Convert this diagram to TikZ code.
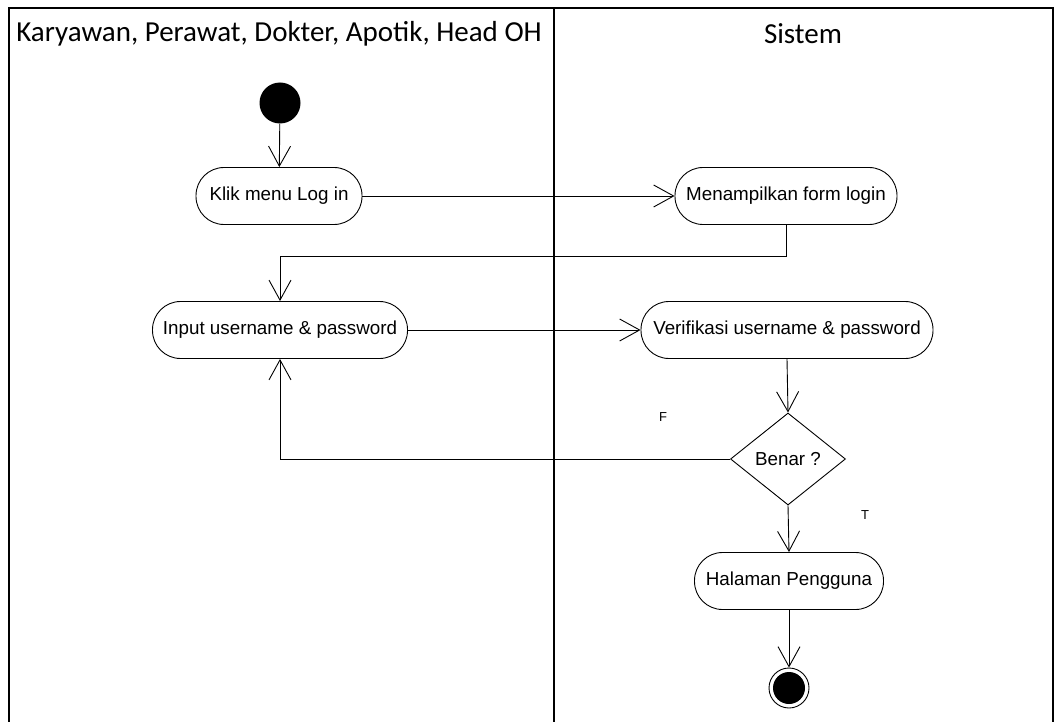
\documentclass[tikz,border=0pt]{standalone}
\usepackage{fontspec}
\setmainfont{Liberation Sans}
\newfontfamily\headfont{Carlito}
\usetikzlibrary{arrows.meta,shapes.geometric}
\tikzset{
  act/.style={draw, line width=0.9pt, rounded corners=28pt, minimum height=57pt, inner sep=0pt, font=\fontsize{18.8}{22}\selectfont},
  conn/.style={line width=0.9pt},
  arr/.style={conn, -{Straight Barb[length=20pt,width=22pt,line width=0.9pt]}},
  lane/.style={line width=1.3pt},
  hdr/.style={font=\headfont\fontsize{29}{33}\selectfont},
  lbl/.style={font=\fontsize{13}{15}\selectfont}
}
\begin{document}
\begin{tikzpicture}[x=1pt,y=-1pt]
\useasboundingbox (0,0) rectangle (1055,722);
\draw[lane] (9,722) -- (9,8) -- (1053,8) -- (1053,722);
\draw[lane] (554,8) -- (554,722);
\node[hdr] (h1) at (279,34) {Karyawan, Perawat, Dokter, Apotik, Head OH};
\node[hdr] (h2) at (803,34) {Sistem};

\node[circle, fill=black, minimum size=41pt, inner sep=0pt] (start) at (280,103) {};
\node[act, minimum width=166pt] (klik) at (279,196) {Klik menu Log in};
\node[act, minimum width=222pt] (form) at (786,196) {Menampilkan form login};
\node[act, minimum width=255pt] (input) at (280,330) {Input username \& password};
\node[act, minimum width=292pt] (verif) at (787,330) {Verifikasi username \& password};
\node[diamond, draw, line width=0.9pt, minimum width=115pt, minimum height=92pt, inner sep=0pt, font=\fontsize{18.8}{22}\selectfont] (dec) at (788,459) {Benar ?};
\node[act, minimum width=189pt] (hal) at (789,581) {Halaman Pengguna};
\node[circle, draw, line width=0.9pt, minimum size=40pt, inner sep=0pt] (end) at (789,688) {};
\fill (end.center) circle (16pt);

\coordinate (c1) at (280,256);
\node[lbl] (f) at (663,417) {F};
\node[lbl] (t) at (865,515) {T};

\draw[arr] (start) -- (klik);
\draw[arr] (klik.east) -- (form.west);
\draw[arr] (form.south) |- (c1) -- (input.north);
\draw[arr] (input.east) -- (verif.west);
\draw[arr] (verif.south) -- (dec.north);
\draw[arr] (dec.west) -| (input.south);
\draw[arr] (dec.south) -- (hal.north);
\draw[arr] (hal.south) -- (end.north);
\end{tikzpicture}
\end{document}
